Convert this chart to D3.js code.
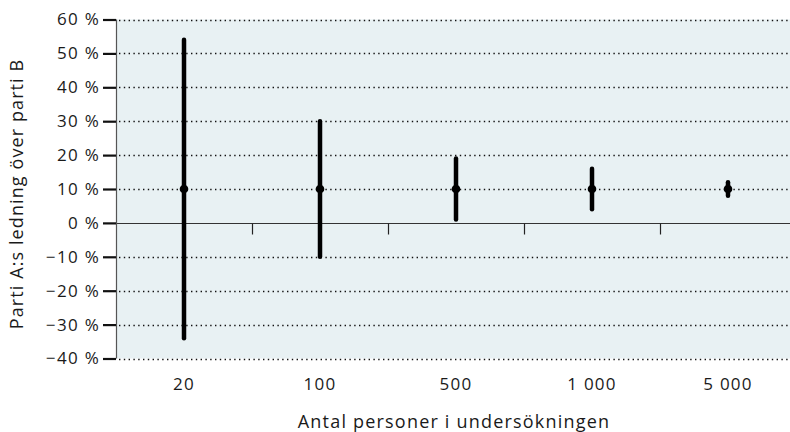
<!DOCTYPE html>
<html><head><meta charset="utf-8">
<script src="https://cdn.jsdelivr.net/npm/d3@7"></script>
<style>body{margin:0;background:#fff}svg{display:block}text{font-family:"Open Sans",sans-serif;fill:#1a1a1a}</style>
</head><body><svg id="c" width="790" height="432"></svg>
<script>
const categories = ["20", "100", "500", "1 000", "5 000"];
const estimate = [10, 10, 10, 10, 10];
const lower = [-34, -10, 1, 4, 8];
const upper = [54, 30, 19, 16, 12];
const yTicks = [60, 50, 40, 30, 20, 10, 0, -10, -20, -30, -40];
const yTitle = "Parti A:s ledning över parti B";
const xTitle = "Antal personer i undersökningen";

const svg = d3.select("#c");
const L = 116, R = 790, T = 19.5, B = 358.5;
const x = d3.scaleBand().domain(categories).range([L, L + 136 * 5]);
const y = d3.scaleLinear().domain([-40, 60]).range([B, T]);

svg.append("rect").attr("x", L).attr("y", T).attr("width", R - L).attr("height", B - T).attr("fill", "#e8f1f3");

// dotted gridlines
svg.append("g").selectAll("line").data(yTicks.filter(d => d !== 0)).join("line")
  .attr("x1", L + 3).attr("x2", R).attr("y1", d => Math.round(y(d)) + 0.5).attr("y2", d => Math.round(y(d)) + 0.5)
  .attr("stroke", "#111").attr("stroke-width", 1.4).attr("stroke-dasharray", "1.4,3.4");

// zero line
const y0 = Math.round(y(0)) + 0.5;
svg.append("line").attr("x1", L).attr("x2", R).attr("y1", y0).attr("y2", y0).attr("stroke", "#333").attr("stroke-width", 1);

// category boundary ticks on zero line
svg.append("g").selectAll("line").data(categories.slice(1)).join("line")
  .attr("x1", d => Math.round(x(d)) + 0.5).attr("x2", d => Math.round(x(d)) + 0.5)
  .attr("y1", y0).attr("y2", y0 + 11).attr("stroke", "#222").attr("stroke-width", 1.2);

// y axis
const yAxis = d3.axisLeft(y).tickValues(yTicks).tickSize(13).tickPadding(3)
  .tickFormat(d => (d < 0 ? "\u2212" + Math.abs(d) : d) + " %");
const ga = svg.append("g").attr("transform", `translate(${L},0)`).call(yAxis);
ga.select(".domain").attr("stroke", "#555").attr("stroke-width", 1.2).attr("d", `M0.5,${T}V${B}`);
ga.selectAll(".tick line").attr("stroke", "#111").attr("stroke-width", 2.2);
ga.selectAll(".tick text").attr("font-size", 17).attr("letter-spacing", 1.3)
  .attr("font-family", "'Open Sans',sans-serif").attr("fill", "#1a1a1a");

// x labels
svg.append("g").selectAll("text").data(categories).join("text")
  .attr("x", d => x(d) + x.bandwidth() / 2).attr("y", 390)
  .attr("text-anchor", "middle").attr("font-size", 17).attr("letter-spacing", 1.2).text(d => d);

// error bars
const data = categories.map((c, i) => ({c, e: estimate[i], lo: lower[i], hi: upper[i]}));
svg.append("g").selectAll("line").data(data).join("line")
  .attr("x1", d => x(d.c) + x.bandwidth() / 2).attr("x2", d => x(d.c) + x.bandwidth() / 2)
  .attr("y1", d => y(d.lo)).attr("y2", d => y(d.hi))
  .attr("stroke", "#000").attr("stroke-width", 4.5).attr("stroke-linecap", "round");
svg.append("g").selectAll("circle").data(data).join("circle")
  .attr("cx", d => x(d.c) + x.bandwidth() / 2).attr("cy", d => y(d.e)).attr("r", 4.3).attr("fill", "#000");

// titles
svg.append("text").attr("x", 454).attr("y", 428).attr("text-anchor", "middle")
  .attr("font-size", 18).attr("letter-spacing", 1.2).text(xTitle);
svg.append("text").attr("transform", "translate(23,194) rotate(-90)").attr("text-anchor", "middle")
  .attr("font-size", 18).attr("letter-spacing", 1.1).text(yTitle);
</script></body></html>
